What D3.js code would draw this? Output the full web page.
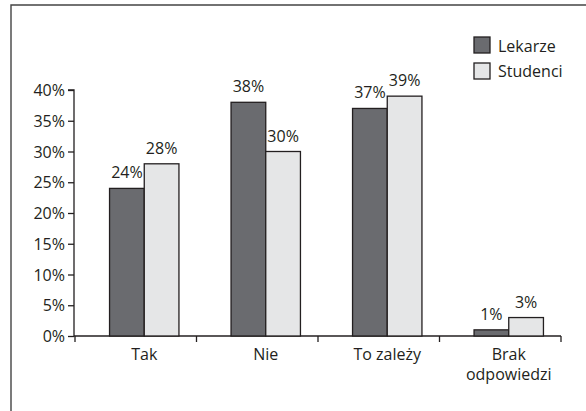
<!DOCTYPE html>
<html><head><meta charset="utf-8">
<script src="https://cdn.jsdelivr.net/npm/d3@7"></script>
<style>
html,body{margin:0;padding:0;background:#fff;overflow:hidden;width:586px;height:411px;}
svg{display:block;}
text{font-family:"Open Sans",sans-serif;fill:#231f20;}
</style></head>
<body>
<svg id="chart" width="586" height="411"></svg>
<script>
const categories = ["Tak", "Nie", "To zależy", "Brak\nodpowiedzi"];
const seriesNames = ["Lekarze", "Studenci"];
const lekarze = [24, 38, 37, 1];
const studenci = [28, 30, 39, 3];
const yTicks = [0, 5, 10, 15, 20, 25, 30, 35, 40];
const colors = ["#6a6b6f", "#e5e6e7"];

const FS = 16;
const svg = d3.select("#chart");
// frame (top and left edges only; the rest is outside the picture)
svg.append("path").attr("d", "M11,411V5H586")
  .attr("fill", "none").attr("stroke", "#444").attr("stroke-width", 1.4);

const x0 = 75, x1e = 561, yTop = 90, yBot = 336;
const x = d3.scaleBand().domain(categories).range([x0, x1e]);
const shift = 8.5;
const xi = d3.scaleBand().domain(seriesNames).range([0, 69.4]);
const y = d3.scaleLinear().domain([0, 40]).range([yBot, yTop]);

// y axis
const yAxis = d3.axisLeft(y).tickValues(yTicks).tickFormat(d => d + "%").tickSize(6).tickPadding(3);
const gy = svg.append("g").attr("transform", `translate(${x0 - 1},0)`).call(yAxis);
gy.select(".domain").attr("stroke", "#231f20").attr("stroke-width", 1.3).attr("d", `M-6,${yTop}H0V${yBot}`);
gy.selectAll(".tick line").attr("stroke", "#231f20").attr("stroke-width", 1.3);
gy.selectAll(".tick text").attr("font-size", FS).attr("font-family", "'Open Sans',sans-serif").attr("fill", "#231f20").attr("dy", "0.35em");

// x axis line and ticks
svg.append("line").attr("x1", x0 - 1).attr("x2", x1e).attr("y1", yBot).attr("y2", yBot)
  .attr("stroke", "#231f20").attr("stroke-width", 1.3);
const tickPos = categories.map(c => x(c)).concat([x1e]);
svg.selectAll(".xt").data(tickPos).enter().append("line")
  .attr("x1", d => d).attr("x2", d => d).attr("y1", yBot).attr("y2", yBot + 6)
  .attr("stroke", "#231f20").attr("stroke-width", 1.3);

// bars
const data = categories.map((c, i) => ({c, vals: [lekarze[i], studenci[i]]}));
const groups = svg.selectAll(".grp").data(data).enter().append("g")
  .attr("transform", d => `translate(${x(d.c) + x.bandwidth() / 2 + shift - 34.7},0)`);
groups.selectAll("rect").data(d => d.vals.map((v, j) => ({v, s: seriesNames[j], j})))
  .enter().append("rect")
  .attr("x", d => xi(d.s)).attr("width", xi.bandwidth())
  .attr("y", d => y(d.v)).attr("height", d => yBot - y(d.v))
  .attr("fill", d => colors[d.j]).attr("stroke", "#231f20").attr("stroke-width", 1.3);
groups.selectAll(".val").data(d => d.vals.map((v, j) => ({v, s: seriesNames[j], j})))
  .enter().append("text")
  .attr("x", d => xi(d.s) + xi.bandwidth() / 2).attr("y", d => y(d.v) - 10)
  .attr("text-anchor", "middle").attr("font-size", FS).text(d => d.v + "%");

// category labels (one text per line)
categories.forEach(c => {
  c.split("\n").forEach((line, k) => {
    svg.append("text").attr("text-anchor", "middle").attr("font-size", FS)
      .attr("x", x(c) + x.bandwidth() / 2 + shift).attr("y", 360 + k * 20).text(line);
  });
});

// legend
const lg = svg.append("g");
seriesNames.forEach((s, i) => {
  lg.append("rect").attr("x", 474).attr("y", 37 + i * 26).attr("width", 16).attr("height", 16)
    .attr("fill", colors[i]).attr("stroke", "#231f20").attr("stroke-width", 1.3);
  lg.append("text").attr("x", 498).attr("y", 52 + i * 25).attr("font-size", FS).text(s);
});
</script>
</body></html>
